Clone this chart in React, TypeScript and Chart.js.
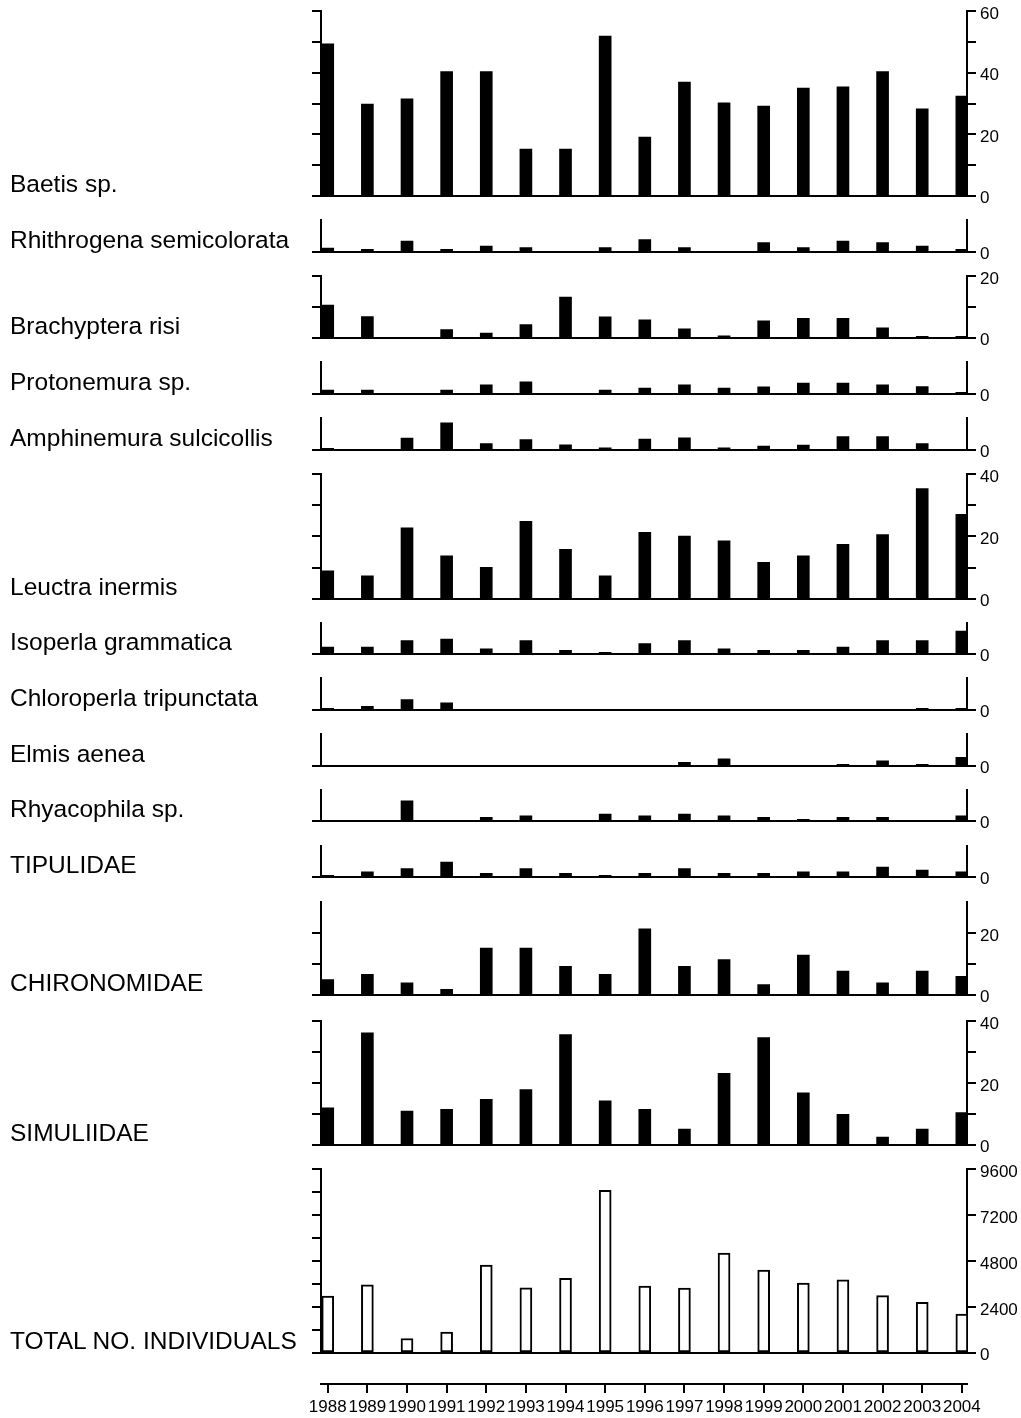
import React, { useEffect, useRef } from 'react';
import { Chart, registerables } from 'chart.js';

Chart.register(...registerables);

const FONT = "'Liberation Sans', Arial, Helvetica, sans-serif";

// Sampling years (x categories)
const YEARS = [1988, 1989, 1990, 1991, 1992, 1993, 1994, 1995, 1996, 1997, 1998, 1999, 2000, 2001, 2002, 2003, 2004];

// Relative abundance per taxon (%), one value per year
const BAETIS = [49.4, 29.8, 31.5, 40.4, 40.4, 15.2, 15.2, 51.9, 19.1, 37.0, 30.2, 29.2, 35.0, 35.4, 40.4, 28.3, 32.4];
const RHITHROGENA = [1.2, 0.75, 3.4, 0.75, 1.8, 1.3, 0, 1.3, 3.9, 1.3, 0, 2.9, 1.3, 3.4, 2.9, 1.8, 0.75];
const BRACHYPTERA = [10.6, 6.9, 0, 2.7, 1.5, 4.3, 13.2, 6.8, 5.8, 2.9, 0.6, 5.5, 6.3, 6.3, 3.2, 0.5, 0.5];
const PROTONEMURA = [1.2, 1.2, 0, 1.2, 2.8, 3.8, 0, 1.2, 1.8, 2.8, 1.8, 2.2, 3.4, 3.4, 2.8, 2.3, 0.5];
const AMPHINEMURA = [0.5, 0, 3.7, 8.5, 2.0, 3.2, 1.6, 0.6, 3.4, 3.8, 0.6, 1.2, 1.5, 4.2, 4.2, 2.0, 0];
const LEUCTRA = [9.0, 7.4, 22.8, 13.8, 10.1, 24.9, 15.9, 7.4, 21.3, 20.1, 18.6, 11.7, 13.8, 17.5, 20.6, 35.4, 27.1];
const ISOPERLA = [2.2, 2.2, 4.3, 4.8, 1.6, 4.3, 1.1, 0.5, 3.3, 4.3, 1.6, 1.1, 1.1, 2.2, 4.3, 4.3, 7.4];
const CHLOROPERLA = [0.5, 1.1, 3.2, 2.2, 0, 0, 0, 0, 0, 0, 0, 0, 0, 0, 0, 0.5, 0.5];
const ELMIS = [0, 0, 0, 0, 0, 0, 0, 0, 0, 1.1, 2.2, 0, 0, 0.5, 1.6, 0.5, 2.7];
const RHYACOPHILA = [0, 0, 6.5, 0, 1.1, 1.6, 0, 2.2, 1.6, 2.2, 1.6, 1.1, 0.5, 1.1, 1.1, 0, 1.6];
const TIPULIDAE = [0.5, 1.6, 2.7, 4.8, 1.1, 2.7, 1.1, 0.5, 1.1, 2.7, 1.1, 1.1, 1.6, 1.6, 3.2, 2.2, 1.6];
const CHIRONOMIDAE = [4.9, 6.6, 3.9, 1.8, 15.1, 15.1, 9.2, 6.6, 21.4, 9.2, 11.4, 3.3, 12.9, 7.7, 3.9, 7.7, 6.0];
const SIMULIIDAE = [12.0, 36.2, 10.9, 11.5, 14.7, 17.9, 35.7, 14.2, 11.5, 5.1, 23.1, 34.7, 16.8, 9.9, 2.5, 5.1, 10.4];
// Total number of individuals per year
const TOTAL = [2970, 3560, 750, 1080, 4585, 3400, 3900, 8490, 3490, 3390, 5210, 4320, 3650, 3820, 2990, 2640, 2030];

// Tick marks and labelled ticks of the y axes
const ZERO_TICK = [0];
const TICKS_60 = [0, 10, 20, 30, 40, 50, 60];
const LABELS_60 = [0, 20, 40, 60];
const TICKS_40 = [0, 10, 20, 30, 40];
const LABELS_40 = [0, 20, 40];
const TICKS_20 = [0, 10, 20];
const LABELS_20 = [0, 20];
const TICKS_TOTAL = [0, 1200, 2400, 3600, 4800, 6000, 7200, 8400, 9600];
const LABELS_TOTAL = [0, 2400, 4800, 7200, 9600];

// x range: a little room on both sides of the first and last year
const X_MIN = 1987.83;
const X_MAX = 2004.13;

const PAD_V = 14;
const PLOT_LEFT = 321;
const RIGHT_AXIS_W = 54;
const CANVAS_W = 1021;

type Panel = {
  name: string;
  values: number[];
  top: number;
  base: number;
  max: number;
  ticks: number[];
  labels: number[];
  hollow?: boolean;
};

const PANELS: Panel[] = [
  { name: 'Baetis sp.', values: BAETIS, top: 11, base: 196, max: 60, ticks: TICKS_60, labels: LABELS_60 },
  { name: 'Rhithrogena semicolorata', values: RHITHROGENA, top: 220, base: 252, max: 10, ticks: ZERO_TICK, labels: ZERO_TICK },
  { name: 'Brachyptera risi', values: BRACHYPTERA, top: 276, base: 338, max: 20, ticks: TICKS_20, labels: LABELS_20 },
  { name: 'Protonemura sp.', values: PROTONEMURA, top: 362, base: 394, max: 10, ticks: ZERO_TICK, labels: ZERO_TICK },
  { name: 'Amphinemura sulcicollis', values: AMPHINEMURA, top: 418, base: 450, max: 10, ticks: ZERO_TICK, labels: ZERO_TICK },
  { name: 'Leuctra inermis', values: LEUCTRA, top: 474, base: 599, max: 40, ticks: TICKS_40, labels: LABELS_40 },
  { name: 'Isoperla grammatica', values: ISOPERLA, top: 623, base: 654, max: 10, ticks: ZERO_TICK, labels: ZERO_TICK },
  { name: 'Chloroperla tripunctata', values: CHLOROPERLA, top: 678, base: 710, max: 10, ticks: ZERO_TICK, labels: ZERO_TICK },
  { name: 'Elmis aenea', values: ELMIS, top: 734, base: 766, max: 10, ticks: ZERO_TICK, labels: ZERO_TICK },
  { name: 'Rhyacophila sp.', values: RHYACOPHILA, top: 790, base: 821, max: 10, ticks: ZERO_TICK, labels: ZERO_TICK },
  { name: 'TIPULIDAE', values: TIPULIDAE, top: 846, base: 877, max: 10, ticks: ZERO_TICK, labels: ZERO_TICK },
  { name: 'CHIRONOMIDAE', values: CHIRONOMIDAE, top: 902, base: 995, max: 30, ticks: TICKS_20, labels: LABELS_20 },
  { name: 'SIMULIIDAE', values: SIMULIIDAE, top: 1021, base: 1145, max: 40, ticks: TICKS_40, labels: LABELS_40 },
  { name: 'TOTAL NO. INDIVIDUALS', values: TOTAL, top: 1169, base: 1353, max: 9600, ticks: TICKS_TOTAL, labels: LABELS_TOTAL, hollow: true },
];

const X_AXIS_Y = 1384;

function axisGrid() {
  return {
    display: true,
    drawOnChartArea: false,
    drawTicks: true,
    offset: false,
    tickLength: 9,
    lineWidth: 2,
    tickWidth: 2,
    color: '#000',
    tickColor: '#000',
  };
}

function PanelChart({ panel }: { panel: Panel }) {
  const ref = useRef<HTMLCanvasElement>(null);
  const height = panel.base - panel.top + PAD_V * 2;

  useEffect(() => {
    if (!ref.current) return;
    const setTicks = (s: any) => {
      s.ticks = panel.ticks.map((v) => ({ value: v }));
    };
    const chart = new Chart(ref.current, {
      type: 'bar',
      data: {
        datasets: [
          {
            data: panel.values.map((v, i) => ({ x: YEARS[i], y: v })),
            backgroundColor: panel.hollow ? '#fff' : '#000',
            borderColor: '#000',
            borderWidth: panel.hollow ? 2 : 0,
            borderSkipped: false,
            barThickness: 12,
            xAxisID: 'x',
            yAxisID: 'yl',
          } as any,
        ],
      },
      options: {
        responsive: false,
        animation: false,
        events: [],
        layout: { padding: { left: PLOT_LEFT - 10, right: 0, top: PAD_V, bottom: PAD_V } },
        plugins: { legend: { display: false }, tooltip: { enabled: false }, title: { display: false } },
        scales: {
          x: {
            type: 'linear',
            position: 'bottom',
            offset: false,
            min: X_MIN,
            max: X_MAX,
            grid: { display: false, offset: false },
            ticks: { display: false },
            border: { display: true, color: '#000', width: 2 },
            afterFit: (s: any) => {
              s.height = 0;
            },
          },
          yl: {
            type: 'linear',
            position: 'left',
            min: 0,
            max: panel.max,
            afterBuildTicks: setTicks,
            ticks: { display: false },
            grid: axisGrid(),
            border: { display: true, color: '#000', width: 2 },
            afterFit: (s: any) => {
              s.width = 10;
            },
          },
          yr: {
            type: 'linear',
            position: 'right',
            min: 0,
            max: panel.max,
            afterBuildTicks: setTicks,
            ticks: {
              display: true,
              color: '#000',
              padding: 4,
              labelOffset: 3,
              font: { family: FONT, size: 17 },
              callback: (v: any) => (panel.labels.includes(Number(v)) ? String(v) : ''),
            },
            grid: axisGrid(),
            border: { display: true, color: '#000', width: 2 },
            afterFit: (s: any) => {
              s.width = RIGHT_AXIS_W;
            },
          },
        },
      } as any,
    });
    return () => chart.destroy();
  }, []);

  return (
    <canvas
      ref={ref}
      width={CANVAS_W}
      height={height}
      style={{ position: 'absolute', left: 0, top: panel.top - PAD_V, display: 'block' }}
    />
  );
}

function YearAxis() {
  const ref = useRef<HTMLCanvasElement>(null);
  const areaH = 10;
  const axisH = 34;

  useEffect(() => {
    if (!ref.current) return;
    const chart = new Chart(ref.current, {
      type: 'bar',
      data: { datasets: [] },
      options: {
        responsive: false,
        animation: false,
        events: [],
        layout: { padding: { left: PLOT_LEFT, right: RIGHT_AXIS_W, top: 0, bottom: 0 } },
        plugins: { legend: { display: false }, tooltip: { enabled: false } },
        scales: {
          x: {
            type: 'linear',
            position: 'bottom',
            offset: false,
            min: X_MIN,
            max: X_MAX,
            afterBuildTicks: (s: any) => {
              s.ticks = YEARS.map((y) => ({ value: y }));
            },
            ticks: {
              color: '#000',
              autoSkip: false,
              maxRotation: 0,
              minRotation: 0,
              padding: 4,
              font: { family: FONT, size: 17 },
              callback: (v: any) => String(v),
            },
            grid: axisGrid(),
            border: { display: true, color: '#000', width: 2 },
            afterFit: (s: any) => {
              s.height = axisH;
            },
          },
          y: { display: false, min: 0, max: 1 },
        },
      } as any,
    });
    return () => chart.destroy();
  }, []);

  return (
    <canvas
      ref={ref}
      width={CANVAS_W}
      height={areaH + axisH}
      style={{ position: 'absolute', left: 0, top: X_AXIS_Y - areaH, display: 'block' }}
    />
  );
}

export default function App() {
  return (
    <div
      style={{
        position: 'absolute',
        left: 0,
        top: 0,
        width: 1021,
        height: 1418,
        overflow: 'hidden',
        background: '#fff',
      }}
    >
      {PANELS.map((p) => (
        <PanelChart key={p.name} panel={p} />
      ))}
      <YearAxis />
      {PANELS.map((p) => (
        <div
          key={'label-' + p.name}
          style={{
            position: 'absolute',
            left: 10,
            top: p.base - 3 - 20.7,
            fontFamily: FONT,
            fontSize: 24.5,
            lineHeight: '24.5px',
            whiteSpace: 'nowrap',
            color: '#000',
          }}
        >
          {p.name}
        </div>
      ))}
    </div>
  );
}
